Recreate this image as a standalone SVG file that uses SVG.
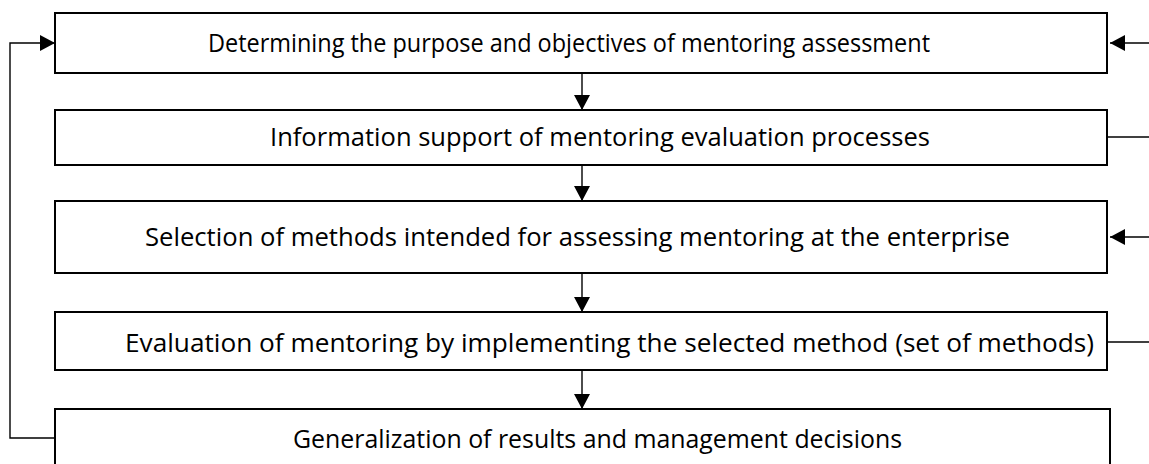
<svg xmlns="http://www.w3.org/2000/svg" width="1149" height="464" viewBox="0 0 1149 464">
  <style>
    .box { fill: #ffffff; stroke: #000000; stroke-width: 2; }
    .lbl { font-family: "Open Sans", "Liberation Sans", sans-serif; font-size: 26px; fill: #000000; }
    .wire { fill: none; stroke: #000000; stroke-width: 1.4; }
  </style>
  <defs>
    <marker id="arrow" viewBox="0 0 15 16" refX="15" refY="8" markerWidth="15" markerHeight="16" markerUnits="userSpaceOnUse" orient="auto">
      <path d="M0,0 L15,8 L0,16 Z" fill="#000000"/>
    </marker>
  </defs>

  <rect width="1149" height="464" fill="#ffffff"/>

  <g id="node-purpose">
    <rect class="box" x="55" y="13" width="1052" height="60"/>
    <text class="lbl" x="208" y="52" textLength="722" lengthAdjust="spacingAndGlyphs">Determining the purpose and objectives of mentoring assessment</text>
  </g>

  <g id="node-information">
    <rect class="box" x="55" y="110" width="1052" height="55"/>
    <text class="lbl" x="270" y="146" textLength="660" lengthAdjust="spacingAndGlyphs">Information support of mentoring evaluation processes</text>
  </g>

  <g id="node-selection">
    <rect class="box" x="55" y="201" width="1052" height="72"/>
    <text class="lbl" x="145" y="246" textLength="865" lengthAdjust="spacingAndGlyphs">Selection of methods intended for assessing mentoring at the enterprise</text>
  </g>

  <g id="node-evaluation">
    <rect class="box" x="55" y="312" width="1052" height="58"/>
    <text class="lbl" x="125" y="352" textLength="969" lengthAdjust="spacingAndGlyphs">Evaluation of mentoring by implementing the selected method (set of methods)</text>
  </g>

  <g id="node-generalization">
    <rect class="box" x="55" y="409" width="1055" height="70"/>
    <text class="lbl" x="293" y="448" textLength="609" lengthAdjust="spacingAndGlyphs">Generalization of results and management decisions</text>
  </g>

  <g id="connectors">
    <!-- main downward flow -->
    <line class="wire" x1="582" y1="73" x2="582" y2="110" marker-end="url(#arrow)"/>
    <line class="wire" x1="582" y1="165" x2="582" y2="201" marker-end="url(#arrow)"/>
    <line class="wire" x1="582" y1="273" x2="582" y2="312" marker-end="url(#arrow)"/>
    <line class="wire" x1="582" y1="370" x2="582" y2="409" marker-end="url(#arrow)"/>
    <!-- left feedback loop from results back to purpose -->
    <polyline class="wire" points="56,438 10,438 10,43 55,43" marker-end="url(#arrow)"/>
    <!-- right-hand side links -->
    <line class="wire" x1="1149" y1="43" x2="1110" y2="43" marker-end="url(#arrow)"/>
    <line class="wire" x1="1107" y1="137" x2="1149" y2="137"/>
    <line class="wire" x1="1149" y1="237" x2="1110" y2="237" marker-end="url(#arrow)"/>
    <line class="wire" x1="1107" y1="342" x2="1149" y2="342"/>
  </g>
</svg>
